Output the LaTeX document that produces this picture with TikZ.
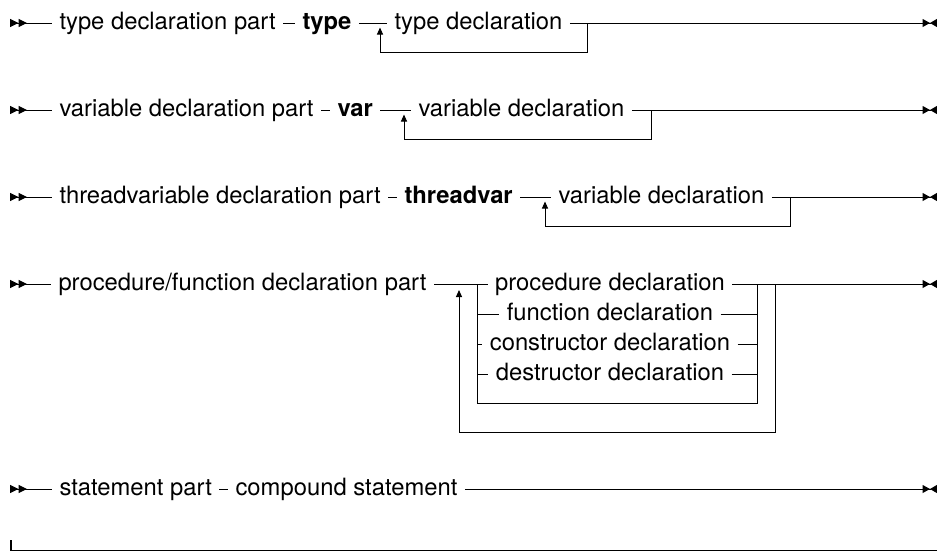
\documentclass[tikz,border=0pt]{standalone}
\usepackage{fontspec}
\setmainfont{TeX Gyre Heros}
\usetikzlibrary{arrows.meta}
\newcommand\diafont{\fontsize{23.8pt}{28pt}\selectfont}

\begin{document}
\begin{tikzpicture}[x=1pt,y=-1pt,line width=1pt,font=\diafont,
lbl/.style={anchor=west,inner xsep=7pt,inner ysep=0pt,text height=16pt,text depth=4pt},
kw/.style={lbl,font=\diafont\bfseries},
alt/.style={lbl,anchor=center},
entry/.style={arrows={{Triangle[reversed,length=8.5pt,width=8pt]Triangle[reversed,length=8.5pt,width=8pt]}-}},
exit/.style={arrows={-{Triangle[length=7.5pt,width=8pt]Triangle[reversed,length=7pt,width=8pt]}}},
loopup/.style={-{Triangle[length=7pt,width=6pt]}}]
\useasboundingbox (0,0) rectangle (937,552);
\coordinate (s1) at (10,23);
\node[lbl] (tdp) at (52,23) {type declaration part};
\node[kw] (ttype) at (295,23) {type};
\coordinate (tfork) at (380,23);
\node[lbl] (tdecl) at (387,23) {type declaration};
\coordinate (tcorner) at (587,23);
\coordinate (e1) at (937,23);
\draw[entry] (s1) -- (tdp);
\draw (tdp) -- (ttype);
\draw (ttype) -- (tdecl);
\draw[exit] (tdecl) -- (e1);
\draw[loopup] (tcorner) -- ++(0,29) -| ([yshift=-4.5pt]tfork);
\coordinate (s2) at (10,110);
\node[lbl] (vdp) at (52,110) {variable declaration part};
\node[kw] (vvar) at (330,110) {var};
\coordinate (vfork) at (404,110);
\node[lbl] (vdecl) at (411,110) {variable declaration};
\coordinate (vcorner) at (651,110);
\coordinate (e2) at (937,110);
\draw[entry] (s2) -- (vdp);
\draw (vdp) -- (vvar);
\draw (vvar) -- (vdecl);
\draw[exit] (vdecl) -- (e2);
\draw[loopup] (vcorner) -- ++(0,29) -| ([yshift=-4.5pt]vfork);
\coordinate (s3) at (10,197);
\node[lbl] (tvdp) at (52,197) {threadvariable declaration part};
\node[kw] (tvar) at (397,197) {threadvar};
\coordinate (tvfork) at (545,197);
\node[lbl] (tvdecl) at (551,197) {variable declaration};
\coordinate (tvcorner) at (790,197);
\coordinate (e3) at (937,197);
\draw[entry] (s3) -- (tvdp);
\draw (tvdp) -- (tvar);
\draw (tvar) -- (tvdecl);
\draw[exit] (tvdecl) -- (e3);
\draw[loopup] (tvcorner) -- ++(0,29) -| ([yshift=-4.5pt]tvfork);
\coordinate (s4) at (10,284);
\node[lbl] (pfdp) at (51,284) {procedure/function declaration part};
\coordinate (pfork) at (459,284);
\coordinate (pleft) at (477,284);
\node[alt] (proc) at (610,284) {procedure declaration};
\node[alt] (func) at (610,314) {function declaration};
\node[alt] (cons) at (610,344) {constructor declaration};
\node[alt] (dest) at (610,374) {destructor declaration};
\coordinate (pright) at (757,284);
\coordinate (pouter) at (775,284);
\coordinate (e4) at (937,284);
\draw[entry] (s4) -- (pfdp);
\draw (pfdp) -- (proc);
\draw[exit] (proc) -- (e4);
\draw (pleft) -- ++(0,119.5) -| (pright);
\foreach \n in {func,cons,dest}{
  \draw (pleft |- \n) -- (\n);
  \draw (\n) -- (pright |- \n);
}
\draw[loopup] (pouter) -- ++(0,148) -| ([yshift=-6pt]pfork);
\coordinate (s5) at (10,489);
\node[lbl] (stp) at (52,489) {statement part};
\node[lbl] (cst) at (228,489) {compound statement};
\coordinate (e5) at (937,489);
\draw[entry] (s5) -- (stp);
\draw (stp) -- (cst);
\draw[exit] (cst) -- (e5);
\coordinate (nxt) at (11,540);
\coordinate (nxtend) at (937,550.5);
\draw[line width=1.4pt] (nxt) |- (nxtend);
\end{tikzpicture}
\end{document}
